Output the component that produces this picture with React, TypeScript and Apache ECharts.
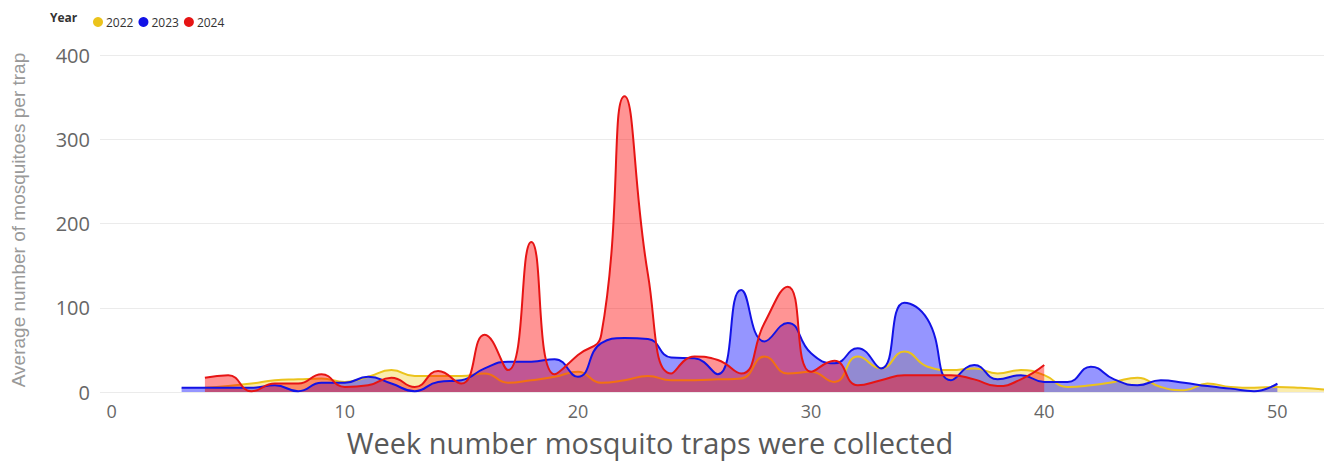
import React, { useEffect, useRef } from "react";
import * as echarts from "echarts";

const years = ["2022", "2023", "2024"];
const colors = ["#EBC31C", "#1212E6", "#E61414"];
const areaColors = ["rgba(240,200,20,0.35)", "rgba(20,20,255,0.45)", "rgba(255,0,0,0.42)"];

const weeks2022 = [4, 5, 6, 7, 8, 9, 10, 11, 12, 13, 14, 15, 16, 17, 18, 19, 20, 21, 22, 23, 24, 25, 26, 27, 28, 29, 30, 31, 32, 33, 34, 35, 36, 37, 38, 39, 40, 41, 42, 43, 44, 45, 46, 47, 48, 49, 50, 51, 52];
const values2022 = [5, 7, 10, 14, 15, 16, 12, 18, 26, 19, 19, 19, 22, 11, 14, 18, 24, 11, 14, 19, 14, 14, 15, 16, 42, 22, 24, 12, 42, 28, 48, 30, 26, 28, 22, 26, 20, 6, 8, 12, 17, 6, 2, 10, 6, 5, 6, 5, 3];

const weeks2023 = [3, 4, 5, 6, 7, 8, 9, 10, 11, 12, 13, 14, 15, 16, 17, 18, 19, 20, 21, 22, 23, 24, 25, 26, 27, 28, 29, 30, 31, 32, 33, 34, 35, 36, 37, 38, 39, 40, 41, 42, 43, 44, 45, 46, 47, 48, 49, 50];
const values2023 = [5, 5, 5, 5, 8, 1, 11, 11, 18, 10, 1, 12, 14, 28, 36, 36, 39, 18, 58, 64, 63, 41, 40, 21, 121, 60, 82, 46, 34, 52, 28, 106, 86, 14, 32, 15, 20, 12, 12, 30, 15, 8, 14, 11, 7, 4, 1, 10];

const weeks2024 = [4, 5, 6, 7, 8, 9, 10, 11, 12, 13, 14, 15, 16, 17, 18, 19, 20, 21, 22, 23, 24, 25, 26, 27, 28, 29, 30, 31, 32, 33, 34, 35, 36, 37, 38, 39, 40];
const values2024 = [17, 20, 1, 10, 10, 21, 6, 8, 17, 6, 25, 10, 68, 26, 178, 21, 44, 68, 351, 140, 22, 42, 38, 22, 82, 125, 24, 37, 8, 14, 20, 20, 20, 15, 7, 15, 32];

const xTicks = [0, 10, 20, 30, 40, 50];
const yTicks = [0, 100, 200, 300, 400];

const seriesWeeks = [weeks2022, weeks2023, weeks2024];
const seriesValues = [values2022, values2023, values2024];

export default function App() {
  const ref = useRef<HTMLDivElement>(null);
  useEffect(() => {
    if (!ref.current) return;
    const chart = echarts.init(ref.current, null, { renderer: "svg" });
    const dataOf = (i: number) => seriesWeeks[i].map((w, j) => [w, seriesValues[i][j]]);
    const areaSeries = (i: number, z: number) => ({
      name: years[i] + " area",
      type: "line",
      smooth: 0.5,
      showSymbol: false,
      silent: true,
      data: dataOf(i),
      lineStyle: { width: 0, opacity: 0 },
      areaStyle: { color: areaColors[i], opacity: 1 },
      z,
    });
    const lineSeries = (i: number, z: number) => ({
      name: years[i],
      type: "line",
      smooth: 0.5,
      showSymbol: false,
      symbol: "circle",
      data: dataOf(i),
      lineStyle: { color: colors[i], width: 2 },
      itemStyle: { color: colors[i] },
      z,
    });
    const series = [
      areaSeries(0, 1),
      areaSeries(1, 2),
      lineSeries(0, 3),
      areaSeries(2, 4),
      lineSeries(1, 5),
      lineSeries(2, 6),
    ];
    chart.setOption({
      animation: false,
      grid: { left: 100, right: 0, top: 55, bottom: 70, containLabel: false },
      legend: {
        data: years,
        left: 88,
        top: 11,
        icon: "circle",
        itemWidth: 10,
        itemHeight: 10,
        itemGap: 5,
        textStyle: { fontSize: 12, color: "#333", fontFamily: "Open Sans", padding: [0, 0, 0, -2] },
      },
      graphic: [
        {
          type: "text",
          left: 50,
          top: 11,
          style: { text: "Year", font: "bold 12px 'Open Sans'", fill: "#333" },
        },
        {
          type: "text",
          x: 650,
          y: 442,
          style: {
            text: "Week number mosquito traps were collected",
            font: "29px 'Open Sans'",
            fill: "#595959",
            textAlign: "center",
            textVerticalAlign: "middle",
          },
        },
        {
          type: "text",
          x: 18,
          y: 220,
          rotation: Math.PI / 2,
          style: {
            text: "Average number of mosquitoes per trap",
            font: "19px 'Liberation Sans'",
            fill: "#999",
            textAlign: "center",
            textVerticalAlign: "middle",
          },
        },
      ],
      xAxis: {
        type: "value",
        min: -0.5,
        max: 52,
        axisLine: { show: false },
        axisTick: { show: false },
        splitLine: { show: false },
        axisLabel: {
          customValues: xTicks,
          fontSize: 18,
          color: "#666",
          fontFamily: "Open Sans",
          margin: 10,
        },
      },
      yAxis: {
        type: "value",
        min: 0,
        max: 400,
        interval: 100,
        axisLine: { show: false },
        axisTick: { show: false },
        splitLine: { lineStyle: { color: "#EBEBEB", width: 1 } },
        axisLabel: {
          customValues: yTicks,
          fontSize: 20,
          color: "#666",
          fontFamily: "Open Sans",
          margin: 10,
        },
      },
      series,
    });
    return () => chart.dispose();
  }, []);
  return <div ref={ref} style={{ width: 1324, height: 462, position: "absolute", left: 0, top: 0 }} />;
}
